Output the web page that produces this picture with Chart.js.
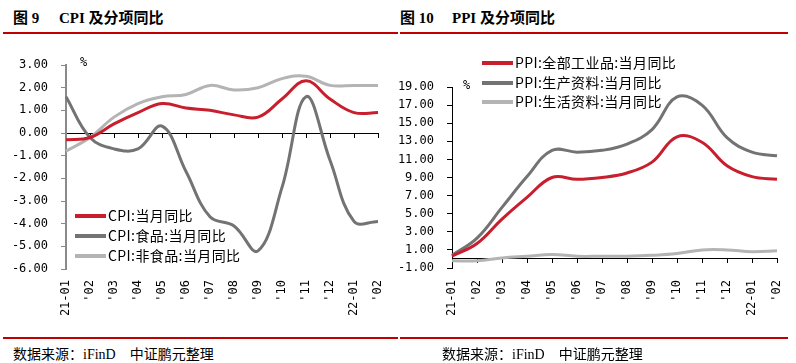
<!DOCTYPE html>
<html>
<head>
<meta charset="utf-8">
<script src="https://cdn.jsdelivr.net/npm/chart.js@4/dist/chart.umd.min.js"></script>
<style>
  body { margin:0; width:796px; height:363px; background:#fff; position:relative; overflow:hidden; }
  .abs { position:absolute; white-space:nowrap; }
  .title { font:bold 15px "Liberation Serif","Noto Sans CJK SC"; color:#000; top:6px; }
  .rule { position:absolute; height:2px; background:#C00000; }
  .foot { font:14px "Liberation Serif","Noto Sans CJK SC"; color:#000; top:343px; }
  .box { position:absolute; }
  .leg { position:absolute; font:14px "Noto Sans CJK SC"; letter-spacing:0.4px; color:#000; line-height:16px; }
  .leg .row { position:absolute; left:0; white-space:nowrap; }
  .leg .swatch { position:absolute; left:0; top:6px; width:31px; height:4px; }
  .leg .txt { position:absolute; left:33px; top:-1px; }
  .pct { font:12px "DejaVu Sans Mono"; color:#000; }
</style>
</head>
<body>
<div class="abs title" style="left:13px">图 9</div>
<div class="abs title" style="left:59px">CPI 及分项同比</div>
<div class="abs title" style="left:400px">图 10</div>
<div class="abs title" style="left:452px">PPI 及分项同比</div>
<div class="rule" style="left:3px;width:395px;top:32px"></div>
<div class="rule" style="left:400px;width:388px;top:32px"></div>

<div class="box" style="left:0;top:40px;width:400px;height:290px"><canvas id="cpiChart"></canvas></div>
<div class="box" style="left:390px;top:40px;width:406px;height:290px"><canvas id="ppiChart"></canvas></div>

<div class="abs pct" style="left:80px;top:55px">%</div>
<div class="abs pct" style="left:463px;top:78px">%</div>

<div class="leg" id="cpiLegend" style="left:75px;top:208px"></div>
<div class="leg" id="ppiLegend" style="left:482px;top:55px"></div>

<div class="rule" style="left:3px;width:395px;top:337px"></div>
<div class="rule" style="left:400px;width:388px;top:337px"></div>
<div class="abs foot" style="left:13px">数据来源：iFinD&nbsp;&nbsp;&nbsp;&nbsp;中证鹏元整理</div>
<div class="abs foot" style="left:442px">数据来源：iFinD&nbsp;&nbsp;&nbsp;&nbsp;中证鹏元整理</div>

<script>
// ===== data =====
const months = ["21-01","'02","'03","'04","'05","'06","'07","'08","'09","'10","'11","'12","22-01","'02"];

const cpiNames = ["CPI:当月同比", "CPI:食品:当月同比", "CPI:非食品:当月同比"];
const cpiAll     = [-0.3, -0.2, 0.4, 0.9, 1.3, 1.1, 1.0, 0.8, 0.7, 1.5, 2.3, 1.5, 0.9, 0.9];
const cpiFood    = [1.6, -0.2, -0.7, -0.7, 0.3, -1.7, -3.7, -4.1, -5.2, -2.4, 1.6, -1.2, -3.9, -3.9];
const cpiNonFood = [-0.8, -0.2, 0.7, 1.3, 1.6, 1.7, 2.1, 1.9, 2.0, 2.4, 2.5, 2.1, 2.1, 2.1];

const ppiNames = ["PPI:全部工业品:当月同比", "PPI:生产资料:当月同比", "PPI:生活资料:当月同比"];
const ppiAll    = [0.3, 1.7, 4.4, 6.8, 9.0, 8.8, 9.0, 9.5, 10.7, 13.5, 12.9, 10.3, 9.1, 8.8];
const ppiProd   = [0.4, 2.3, 5.7, 9.1, 12.0, 11.8, 12.0, 12.7, 14.3, 17.9, 17.0, 13.4, 11.8, 11.4];
const ppiLiving = [-0.2, -0.2, 0.1, 0.3, 0.5, 0.3, 0.3, 0.3, 0.4, 0.6, 1.0, 1.0, 0.8, 0.9];

const colors = ["#C81E2D", "#737373", "#B4B4B4"];

// ===== helpers =====
const tickFont = { family: "DejaVu Sans Mono", size: 12 };

function makeLegend(id, names, rowTops){
  const box = document.getElementById(id);
  names.forEach((n, i) => {
    box.innerHTML += `<div class="row" style="top:${rowTops[i]}px">
      <div class="swatch" style="background:${colors[i]}"></div>
      <div class="txt">${n}</div></div>`;
  });
}

function makeChart(canvasId, names, series, yMin, yMax, step, opt){
  return new Chart(document.getElementById(canvasId), {
    type: "line",
    data: {
      labels: months,
      datasets: series.map((s, i) => ({
        label: names[i], data: s, borderColor: colors[i], backgroundColor: colors[i],
        borderWidth: 3, pointRadius: 0, tension: 0.4, fill: false
      }))
    },
    options: {
      responsive: true, maintainAspectRatio: false, animation: false,
      layout: { padding: { left: 0, top: opt.top, right: opt.right, bottom: 0 } },
      plugins: { legend: { display: false }, tooltip: { enabled: false } },
      scales: {
        x: {
          type: "category", position: "bottom", offset: false,
          grid: { display: false }, border: { display: false },
          ticks: { autoSkip: false, maxRotation: 90, minRotation: 90, padding: opt.labelPad, color: "#000", font: tickFont },
          afterFit: s => { s.height = opt.xHeight; }
        },
        xz: {
          type: "category", axis: "x", labels: months, position: { y: 0 }, offset: false,
          grid: { drawOnChartArea: false, drawTicks: true, tickLength: 4, color: "#000" },
          border: { color: "#000", width: 1 },
          ticks: { display: false }
        },
        y: {
          min: yMin, max: yMax,
          grid: { drawOnChartArea: false, drawTicks: true, tickLength: 5, color: opt.axisColor },
          border: { color: opt.axisColor, width: opt.axisWidth },
          ticks: { stepSize: step, padding: 13, color: "#000", font: tickFont, callback: v => v.toFixed(2) },
          afterFit: s => { s.width = opt.yWidth; }
        }
      }
    }
  });
}

// ===== charts =====
makeChart("cpiChart", cpiNames, [cpiAll, cpiFood, cpiNonFood], -6, 3, 1,
  { top: 25, right: 22, xHeight: 61, yWidth: 66, labelPad: 3, axisColor: "#8a8a8a", axisWidth: 2 });
makeChart("ppiChart", ppiNames, [ppiAll, ppiProd, ppiLiving], -1, 19, 2,
  { top: 47, right: 19, xHeight: 62, yWidth: 62, labelPad: 4, axisColor: "#000", axisWidth: 1 });

makeLegend("cpiLegend", cpiNames, [0, 20, 40]);
makeLegend("ppiLegend", ppiNames, [0, 20, 39]);
</script>
</body>
</html>
